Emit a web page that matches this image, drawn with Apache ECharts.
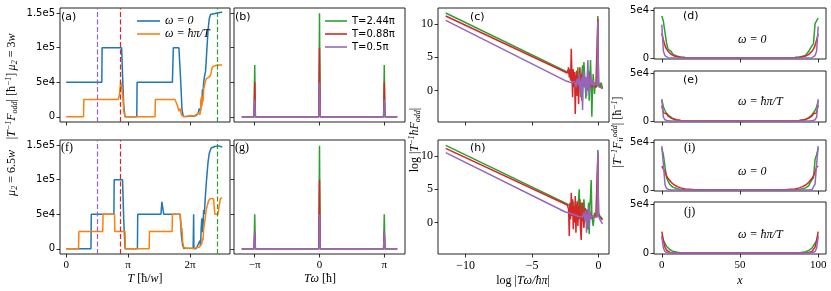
<!DOCTYPE html>
<html><head><meta charset="utf-8">
<script src="https://cdn.jsdelivr.net/npm/echarts@6/dist/echarts.min.js"></script>
<style>html,body{margin:0;padding:0;background:#fff}#c{width:831px;height:291px}</style>
</head><body><div id="c"></div>
<script>
// ---------- data ----------
// panel (a): mu2 = 3w ; x in units of pi
const aBlueT = [0, 0.575, 0.58, 0.895, 0.91, 0.93, 0.95, 1.14, 1.145, 1.715, 1.73, 1.82, 1.85, 1.87, 1.89, 1.95, 2.0, 2.05, 2.1, 2.13, 2.15, 2.17, 2.18, 2.19, 2.2, 2.21, 2.22, 2.23, 2.24, 2.25, 2.27, 2.29, 2.31, 2.33, 2.36, 2.42, 2.48, 2.52];
const aBlueF = [50000, 50000, 100000, 100000, 60000, 15000, 0, 0, 50000, 50000, 100000, 100000, 50000, 10000, 1000, 500, 1500, 800, 2000, 5000, 12000, 8000, 25000, 18000, 40000, 35000, 50000, 48000, 62000, 65000, 95000, 125000, 142000, 148000, 149000, 150000, 151000, 151500];
const aOrangeT = [0, 0.28, 0.285, 0.84, 0.855, 0.865, 0.875, 0.88, 0.905, 0.915, 0.93, 0.95, 1.435, 1.44, 1.755, 1.78, 1.8, 1.82, 1.84, 1.86, 1.88, 1.9, 1.95, 2.0, 2.05, 2.1, 2.12, 2.14, 2.16, 2.17, 2.18, 2.19, 2.2, 2.21, 2.22, 2.24, 2.26, 2.28, 2.3, 2.33, 2.36, 2.4, 2.45, 2.52];
const aOrangeF = [0, 0, 25000, 25000, 30000, 36000, 38000, 51000, 51000, 30000, 8000, 0, 0, 25000, 25000, 20000, 15000, 8000, 12000, 3000, 1000, 0, 500, 2000, 1000, 3000, 1000, 6000, 3000, 12000, 28000, 15000, 30000, 22000, 40000, 48000, 55000, 55000, 57000, 60000, 72000, 74000, 75000, 75000];
// panel (f): mu2 = 6.5w
const fBlueT = [0, 0.40, 0.405, 0.77, 0.775, 0.91, 0.93, 0.95, 1.15, 1.155, 1.53, 1.545, 1.56, 1.575, 1.585, 1.84, 1.86, 1.88, 1.9, 1.95, 2.0, 2.05, 2.058, 2.062, 2.08, 2.1, 2.14, 2.16, 2.17, 2.18, 2.19, 2.2, 2.21, 2.22, 2.23, 2.25, 2.27, 2.29, 2.31, 2.34, 2.4, 2.46, 2.52];
const fBlueF = [0, 0, 50000, 50000, 100000, 100000, 40000, 0, 0, 50000, 50000, 68000, 68000, 50000, 50000, 50000, 20000, 5000, 500, 1000, 500, 1000, 50000, 0, 1500, 500, 8000, 12000, 4000, 30000, 44000, 24000, 35000, 56000, 50000, 80000, 104000, 125000, 138000, 146000, 148000, 149000, 147500];
const fOrangeT = [0, 0.2, 0.205, 0.59, 0.595, 0.78, 0.785, 0.95, 0.955, 1.34, 1.345, 1.71, 1.715, 1.84, 1.85, 1.86, 1.87, 1.88, 1.9, 1.95, 2.0, 2.05, 2.1, 2.15, 2.17, 2.19, 2.2, 2.21, 2.22, 2.24, 2.26, 2.3, 2.33, 2.36, 2.38, 2.4, 2.43, 2.45, 2.47, 2.49, 2.52];
const fOrangeF = [0, 0, 25000, 25000, 50000, 50000, 25000, 25000, 0, 0, 25000, 25000, 50000, 50000, 40000, 25000, 30000, 10000, 2000, 500, 1000, 300, 1500, 2500, 1000, 8000, 15000, 12000, 29000, 41000, 56000, 70000, 73000, 73000, 72000, 50000, 50000, 50000, 50000, 73000, 74000];
const markT = [0.5, 0.88, 2.44];
// panels (b), (g): spectra, x in units of pi
const peakX = [-1.2, -1.01, -1, -0.99, -0.01, 0, 0.01, 0.99, 1, 1.01, 1.2];
const bGreen = [0, 0, 75000, 0, 0, 150000, 0, 0, 75000, 0, 0];
const bRed = [0, 0, 50000, 0, 0, 100000, 0, 0, 50000, 0, 0];
const bPurple = [0, 0, 25000, 0, 0, 50000, 0, 0, 25000, 0, 0];
const gGreen = [0, 0, 50000, 0, 0, 149000, 0, 0, 50000, 0, 0];
const gRed = [0, 0, 25000, 0, 0, 100000, 0, 0, 25000, 0, 0];
const gPurple = [0, 0, 25000, 0, 0, 50000, 0, 0, 25000, 0, 0];
// panels (c), (h): log-log
const cGreenX = [-11.5, -2.4, -2.3, -2.2, -2.1, -2.0, -1.9, -1.8, -1.75, -1.7, -1.6, -1.55, -1.5, -1.4, -1.35, -1.3, -1.2, -1.15, -1.1, -1.0, -0.95, -0.9, -0.8, -0.75, -0.7, -0.6, -0.55, -0.5, -0.45, -0.4, -0.3, -0.25, -0.2, -0.15, -0.1, -0.05, 0.0, 0.05, 0.1, 0.2, 0.3];
const cGreenY = [11.65, 2.85, 2.7, 2.6, 2.4, 1.5, 3.0, 0.5, 2.2, -0.5, 1.8, 3.5, 0.2, 2.5, -1.0, 1.5, 3.8, 0.5, 4.3, 1.0, -1.2, 2.0, 0.0, 3.0, -1.5, 4.6, 1.0, -3.9, 0.5, 2.5, -0.5, 1.2, 0.4, 1.0, 0.6, 11.2, 1.5, 0.5, 0.7, 1.2, 0.4];
const cRedX = [-11.5, -2.35, -2.25, -2.2, -2.15, -2.1, -2.05, -2.0, -1.95, -1.9, -1.85, -1.8, -1.75, -1.7, -1.65, -1.6, -1.55, -1.5, -1.45, -1.4, -1.35, -1.3, -1.25, -1.2, -1.1, -1.0, -0.9, -0.8, -0.7, -0.6, -0.5, -0.4, -0.3, -0.2, -0.1, -0.05, 0.0, 0.1, 0.2, 0.3];
const cRedY = [11.2, 2.65, 3.5, 2.0, 3.2, 1.5, 6.3, 2.5, -1.0, 3.2, 0.5, 2.8, -3.5, 1.5, 3.0, -0.8, 2.2, -2.0, 1.8, 3.5, 0.0, 2.5, -1.5, 1.0, 2.0, 0.5, 1.5, 0.8, 2.5, 0.5, 1.2, 0.6, 1.0, 0.5, 0.8, 10.8, 1.0, 0.7, 0.5, 0.3];
const cPurpleX = [-11.5, -2.5, -2.2, -2.0, -1.8, -1.7, -1.6, -1.5, -1.45, -1.4, -1.35, -1.3, -1.25, -1.2, -1.15, -1.1, -1.0, -0.95, -0.9, -0.8, -0.75, -0.7, -0.6, -0.5, -0.4, -0.35, -0.3, -0.2, -0.15, -0.1, -0.05, 0.0, 0.05, 0.1, 0.2, 0.3];
const cPurpleY = [10.55, 1.5, 1.3, 1.2, 1.4, 0.5, 1.8, 0.8, 2.5, 0.0, 1.5, -1.0, 2.0, -2.9, 1.5, 3.0, 0.5, 2.0, -0.8, 4.6, 1.0, -0.5, 2.5, 0.8, 1.5, 0.6, 1.0, 0.7, 0.8, 0.9, 10.4, 1.2, 0.6, 0.8, 0.5, 0.3];
const hGreenX = [-11.5, -2.4, -2.3, -2.2, -2.1, -2.0, -1.9, -1.8, -1.7, -1.6, -1.5, -1.45, -1.4, -1.3, -1.2, -1.1, -1.0, -0.9, -0.8, -0.75, -0.7, -0.65, -0.6, -0.55, -0.5, -0.4, -0.3, -0.2, -0.1, -0.05, 0.0, 0.1, 0.2, 0.3];
const hGreenY = [11.6, 2.85, 2.7, 2.6, 2.5, 1.0, 3.2, 0.5, 2.8, 1.2, 3.5, 5.0, 1.0, 3.0, 0.2, 3.5, 1.0, 2.0, -1.0, 3.0, -1.7, 2.5, 4.0, 6.4, 1.0, -0.5, 1.5, 0.8, 1.2, 10.9, 1.5, 1.0, 0.8, 0.6];
const hRedX = [-11.5, -2.35, -2.25, -2.2, -2.15, -2.1, -2.05, -2.0, -1.95, -1.9, -1.85, -1.8, -1.75, -1.7, -1.65, -1.6, -1.55, -1.5, -1.45, -1.4, -1.35, -1.3, -1.25, -1.2, -1.1, -1.0, -0.9, -0.8, -0.7, -0.6, -0.5, -0.4, -0.3, -0.2, -0.1, -0.05, 0.0, 0.1, 0.2, 0.3];
const hRedY = [11.15, 2.65, 2.0, -2.0, 3.0, 0.5, 4.5, 1.0, 3.5, -1.0, 2.5, 0.0, 4.0, -1.5, 2.0, 3.2, -0.5, 2.5, 0.5, 3.5, -1.2, -2.6, 1.5, 3.0, -0.8, 2.2, 0.5, 1.8, 0.3, 1.5, 0.6, 1.0, 0.7, 0.9, 0.8, 10.2, 1.2, 0.8, 0.6, 0.4];
const hPurpleX = [-11.5, -2.5, -2.2, -2.0, -1.8, -1.6, -1.4, -1.2, -1.1, -1.0, -0.95, -0.9, -0.85, -0.8, -0.75, -0.7, -0.65, -0.6, -0.5, -0.4, -0.3, -0.2, -0.1, -0.05, 0.0, 0.1, 0.2, 0.3];
const hPurpleY = [10.5, 1.6, 1.45, 1.3, 1.15, 1.0, 0.9, 0.85, 1.5, 0.2, 1.8, -1.5, 1.2, 0.5, 2.5, -0.8, 1.8, 0.6, 1.0, 0.7, 0.8, 0.8, 0.9, 10.7, 1.0, 0.5, 0.2, -0.2];
// panels (d),(e),(i),(j): site profiles
const siteX = [0, 1, 2, 3, 4, 5, 6, 7, 8, 10, 12, 15, 20, 30, 50, 70, 80, 85, 88, 90, 92, 93, 94, 95, 96, 97, 98, 99, 100];
const dGreen = [44000, 38500, 37000, 16000, 9000, 10500, 7000, 4000, 3000, 1700, 900, 400, 100, 0, 0, 0, 100, 400, 900, 1700, 3000, 4000, 7000, 10000, 9000, 15000, 36000, 38000, 42000];
const dRed = [26000, 19000, 13000, 9500, 7000, 5000, 3800, 2800, 2000, 1200, 700, 300, 80, 0, 0, 0, 80, 300, 700, 1200, 2000, 2800, 3800, 5000, 7000, 9500, 13000, 19000, 25000];
const dPurple = [35000, 7000, 2500, 800, 300, 100, 30, 0, 0, 0, 0, 0, 0, 0, 0, 0, 0, 0, 0, 0, 0, 0, 30, 100, 300, 800, 2500, 7000, 33000];
const eGreen = [22000, 15000, 11000, 8000, 6500, 5000, 3500, 2500, 1800, 1000, 500, 200, 50, 0, 0, 0, 50, 200, 500, 1000, 1800, 2500, 3500, 5000, 6500, 8000, 11000, 15000, 21000];
const eRed = [16000, 8500, 8000, 7500, 5000, 4000, 3000, 2200, 1600, 900, 500, 200, 50, 0, 0, 0, 50, 200, 500, 900, 1600, 2200, 3000, 4000, 5000, 7500, 8000, 8500, 17000];
const ePurple = [23000, 4000, 1200, 400, 100, 30, 0, 0, 0, 0, 0, 0, 0, 0, 0, 0, 0, 0, 0, 0, 0, 0, 0, 30, 100, 400, 1200, 4000, 23000];
const iGreen = [44000, 37000, 35500, 13000, 15000, 6000, 4500, 3000, 2200, 1200, 600, 250, 60, 0, 0, 0, 60, 250, 600, 1200, 2200, 3000, 4500, 8000, 10000, 13000, 32000, 37000, 44000];
const iRed = [25000, 24000, 19000, 15000, 12000, 10000, 8000, 6500, 5200, 3500, 2200, 1100, 400, 50, 0, 50, 400, 1100, 2200, 3500, 5200, 6500, 8000, 10000, 12000, 15000, 19000, 24000, 25000];
const iPurple = [46000, 27000, 6000, 1500, 400, 100, 0, 0, 0, 0, 0, 0, 0, 0, 0, 0, 0, 0, 0, 0, 0, 0, 0, 100, 400, 1500, 6000, 27000, 46000];
const jGreen = [18000, 13000, 10000, 7000, 5000, 3500, 2500, 1800, 1200, 600, 300, 100, 0, 0, 0, 0, 0, 100, 300, 600, 1200, 1800, 2500, 3500, 5000, 7000, 10000, 13000, 18000];
const jRed = [22000, 13000, 6000, 3000, 1500, 800, 400, 200, 100, 0, 0, 0, 0, 0, 0, 0, 0, 0, 0, 0, 100, 200, 400, 800, 1500, 3000, 6000, 13000, 22000];
const jPurple = [16500, 5000, 1500, 500, 150, 50, 0, 0, 0, 0, 0, 0, 0, 0, 0, 0, 0, 0, 0, 0, 0, 0, 0, 50, 150, 500, 1500, 5000, 16500];
// ticks
const bigYTicks = [0, 50000, 100000, 150000];
const bigYLabels = ['0', '5e4', '1e5', '1.5e5'];
const tTicks = [0, 1, 2];
const tLabels = ['0', 'π', '2π'];
const wTicks = [-1, 0, 1];
const wLabels = ['−π', '0', 'π'];
const logXTicks = [-10, -5, 0];
const logXLabels = ['−10', '−5', '0'];
const logYTicks = [0, 5, 10];
const logYLabels = ['0', '5', '10'];
const siteXTicks = [0, 50, 100];
const siteXLabels = ['0', '50', '100'];
const siteYTicks = [0, 50000];
const siteYLabels = ['0', '5e4'];
const omegaNames = ['ω = 0', 'ω = ħπ/T'];
const tNames = ['T=2.44π', 'T=0.88π', 'T=0.5π'];

// ---------- styling ----------
const COL = {blue: '#1f77b4', orange: '#ff7f0e', green: '#2ca02c', red: '#d62728', purple: '#9467bd'};
const SANS = 'DejaVu Sans';
const SERIF = 'Liberation Serif';
const gridPos = [
  [60, 8, 170, 114], [234, 8, 171, 114], [438, 8, 171, 114], [654, 8, 172, 51], [654, 71, 172, 51],
  [60, 140, 170, 114], [234, 140, 171, 114], [438, 140, 171, 114], [654, 140, 172, 51], [654, 202, 172, 52]
];

function axis(gi, min, max, ticks, labels, show, font, fs, margin) {
  return {
    type: 'value', gridIndex: gi, min: min, max: max,
    splitLine: {show: false}, axisLine: {show: false, onZero: false},
    axisTick: {show: true, customValues: ticks, length: 3.5, lineStyle: {color: '#000', width: 0.8}},
    axisLabel: {show: show, customValues: ticks, margin: margin,
      formatter: v => { const k = ticks.indexOf(v); return k >= 0 ? labels[k] : ''; },
      color: '#000', fontFamily: font, fontSize: fs}
  };
}
const xAxes = [
  axis(0, -0.1, 2.645, tTicks, tLabels, false, SERIF, 11, 6),
  axis(1, -1.32, 1.32, wTicks, wLabels, false, SERIF, 11, 6),
  axis(2, -12.08, 0.79, logXTicks, logXLabels, false, SERIF, 12, 6),
  axis(3, -5, 105, siteXTicks, siteXLabels, false, SERIF, 11, 6),
  axis(4, -5, 105, siteXTicks, siteXLabels, false, SERIF, 11, 6),
  axis(5, -0.1, 2.645, tTicks, tLabels, true, SERIF, 11, 6),
  axis(6, -1.32, 1.32, wTicks, wLabels, true, SERIF, 11, 6),
  axis(7, -12.08, 0.79, logXTicks, logXLabels, true, SERIF, 12, 6),
  axis(8, -5, 105, siteXTicks, siteXLabels, false, SERIF, 11, 6),
  axis(9, -5, 105, siteXTicks, siteXLabels, true, SERIF, 11, 6)
];
const yAxes = [
  axis(0, -7500, 157500, bigYTicks, bigYLabels, true, SANS, 10, 5),
  axis(1, -7500, 157500, bigYTicks, bigYLabels, false, SANS, 10, 5),
  axis(2, -4.7, 12.4, logYTicks, logYLabels, true, SERIF, 12, 5),
  axis(3, -1100, 52500, siteYTicks, siteYLabels, true, SANS, 10, 5),
  axis(4, -1100, 52500, siteYTicks, siteYLabels, true, SANS, 10, 5),
  axis(5, -7500, 157500, bigYTicks, bigYLabels, true, SANS, 10, 5),
  axis(6, -7500, 157500, bigYTicks, bigYLabels, false, SANS, 10, 5),
  axis(7, -4.7, 12.4, logYTicks, logYLabels, true, SERIF, 12, 5),
  axis(8, -1100, 52500, siteYTicks, siteYLabels, true, SANS, 10, 5),
  axis(9, -1100, 52500, siteYTicks, siteYLabels, true, SANS, 10, 5)
];

function ln(gi, name, xs, ys, color, extra) {
  const s = {
    type: 'line', name: name, xAxisIndex: gi, yAxisIndex: gi,
    data: xs.map((x, i) => [x, ys[i]]), symbol: 'none', showSymbol: false,
    lineStyle: {color: color, width: 1.5}, itemStyle: {color: color},
    silent: true, animation: false
  };
  return Object.assign(s, extra || {});
}
const markCols = [COL.purple, COL.red, COL.green];
function vlines() {
  return {markLine: {symbol: 'none', silent: true, animation: false, label: {show: false},
    data: markT.map((t, k) => ({xAxis: t, lineStyle: {color: markCols[k], type: [5, 2.5], width: 1.2}}))}};
}

const series = [
  ln(0, omegaNames[0], aBlueT, aBlueF, COL.blue, vlines()),
  ln(0, omegaNames[1], aOrangeT, aOrangeF, COL.orange),
  ln(5, omegaNames[0], fBlueT, fBlueF, COL.blue, vlines()),
  ln(5, omegaNames[1], fOrangeT, fOrangeF, COL.orange),
  ln(1, tNames[0], peakX, bGreen, COL.green),
  ln(1, tNames[1], peakX, bRed, COL.red),
  ln(1, tNames[2], peakX, bPurple, COL.purple),
  ln(6, tNames[0], peakX, gGreen, COL.green),
  ln(6, tNames[1], peakX, gRed, COL.red),
  ln(6, tNames[2], peakX, gPurple, COL.purple),
  ln(2, tNames[0], cGreenX, cGreenY, COL.green),
  ln(2, tNames[1], cRedX, cRedY, COL.red),
  ln(2, tNames[2], cPurpleX, cPurpleY, COL.purple),
  ln(7, tNames[0], hGreenX, hGreenY, COL.green),
  ln(7, tNames[1], hRedX, hRedY, COL.red),
  ln(7, tNames[2], hPurpleX, hPurpleY, COL.purple),
  ln(3, tNames[0], siteX, dGreen, COL.green),
  ln(3, tNames[1], siteX, dRed, COL.red),
  ln(3, tNames[2], siteX, dPurple, COL.purple),
  ln(4, tNames[0], siteX, eGreen, COL.green),
  ln(4, tNames[1], siteX, eRed, COL.red),
  ln(4, tNames[2], siteX, ePurple, COL.purple),
  ln(8, tNames[0], siteX, iGreen, COL.green),
  ln(8, tNames[1], siteX, iRed, COL.red),
  ln(8, tNames[2], siteX, iPurple, COL.purple),
  ln(9, tNames[0], siteX, jGreen, COL.green),
  ln(9, tNames[1], siteX, jRed, COL.red),
  ln(9, tNames[2], siteX, jPurple, COL.purple)
];

function txt(x, y, text, font, fs, opts) {
  const o = opts || {};
  return {type: 'text', x: x, y: y, rotation: o.rot || 0, silent: true, z: 100,
    style: {text: text, fill: '#000', fontFamily: font, fontSize: fs, fontStyle: o.italic ? 'italic' : 'normal',
      align: o.align || 'center', verticalAlign: 'middle', textAlign: o.align || 'center', textVerticalAlign: 'middle',
      rich: o.rich}};
}
const mathRich = {
  m: {fontFamily: SERIF, fontStyle: 'italic', fontSize: 12, lineHeight: 14, fill: '#000', color: '#000'},
  r: {fontFamily: SERIF, fontSize: 12, lineHeight: 14, fill: '#000', color: '#000'},
  sub: {fontFamily: SERIF, fontStyle: 'italic', fontSize: 8, lineHeight: 9, padding: [5, 0, 0, 0], fill: '#000', color: '#000'},
  sup: {fontFamily: SERIF, fontStyle: 'italic', fontSize: 8, lineHeight: 9, padding: [0, 0, 6, 0], fill: '#000', color: '#000'}
};
const R = Math.PI / 2;
const graphic = [
  txt(61, 17, '(a)', SANS, 11, {align: 'left'}),
  txt(235, 17, '(b)', SANS, 11, {align: 'left'}),
  txt(470, 17, '(c)', SANS, 11, {align: 'left'}),
  txt(683, 16, '(d)', SANS, 11, {align: 'left'}),
  txt(683, 80, '(e)', SANS, 11, {align: 'left'}),
  txt(61, 148, '(f)', SERIF, 12, {align: 'left'}),
  txt(235, 148, '(g)', SERIF, 12, {align: 'left'}),
  txt(470, 148, '(h)', SANS, 11, {align: 'left'}),
  txt(684, 148, '(i)', SERIF, 12, {align: 'left'}),
  txt(684, 212, '(j)', SERIF, 12, {align: 'left'}),
  txt(738, 40, 'ω = 0', SERIF, 12, {align: 'left', italic: true}),
  txt(738, 102, 'ω = ħπ/T', SERIF, 12, {align: 'left', italic: true}),
  txt(738, 172, 'ω = 0', SERIF, 12, {align: 'left', italic: true}),
  txt(738, 235, 'ω = ħπ/T', SERIF, 12, {align: 'left', italic: true}),
  txt(145, 279, '{m|T} {r|[ħ/}{m|w}{r|]}', SERIF, 12, {rich: mathRich}),
  txt(320, 279, '{m|Tω} {r|[ħ]}', SERIF, 12, {rich: mathRich}),
  txt(523, 281, '{r|log |}{m|Tω/ħπ}{r||}', SERIF, 12, {rich: mathRich}),
  txt(740, 281, '{m|x}', SERIF, 12, {rich: mathRich}),
  txt(12, 52, '{m|μ}{sub|2}{r| = 3}{m|w}', SERIF, 12, {rot: R, rich: mathRich}),
  txt(12, 106, '{r||}{m|T}{sup|−1}{m|F}{sub|odd}{r|| [ħ}{sup|−1}{r|]}', SERIF, 12, {rot: R, rich: mathRich}),
  txt(12, 173, '{m|μ}{sub|2}{r| = 6.5}{m|w}', SERIF, 12, {rot: R, rich: mathRich}),
  txt(415, 140, '{r|log |}{m|T}{sup|−1}{m|ħF}{sub|odd}{r||}', SERIF, 12, {rot: R, rich: mathRich}),
  txt(618, 132, '{r||}{m|T}{sup|−1}{m|F}{sub|ii}{sup|odd}{r|| [ħ}{sup|−1}{r|]}', SERIF, 12, {rot: R, rich: mathRich})
];

const option = {
  animation: false,
  backgroundColor: '#fff',
  grid: gridPos.map(g => ({left: g[0], top: g[1], width: g[2], height: g[3], show: true,
    borderColor: '#222', borderWidth: 1, backgroundColor: 'transparent', containLabel: false})),
  xAxis: xAxes,
  yAxis: yAxes,
  legend: [
    {data: omegaNames, left: 137, top: 15, orient: 'vertical', padding: 0, itemGap: 1, itemWidth: 23, itemHeight: 1.6,
      icon: 'rect', selectedMode: false, textStyle: {fontFamily: SERIF, fontStyle: 'italic', fontSize: 12, color: '#000'}},
    {data: tNames, left: 325, top: 16, orient: 'vertical', padding: 0, itemGap: 3, itemWidth: 22, itemHeight: 1.6,
      icon: 'rect', selectedMode: false, textStyle: {fontFamily: SANS, fontSize: 10, color: '#000'}}
  ],
  series: series,
  graphic: graphic
};
const chart = echarts.init(document.getElementById('c'), null, {renderer: 'canvas'});
chart.setOption(option);
</script></body></html>
